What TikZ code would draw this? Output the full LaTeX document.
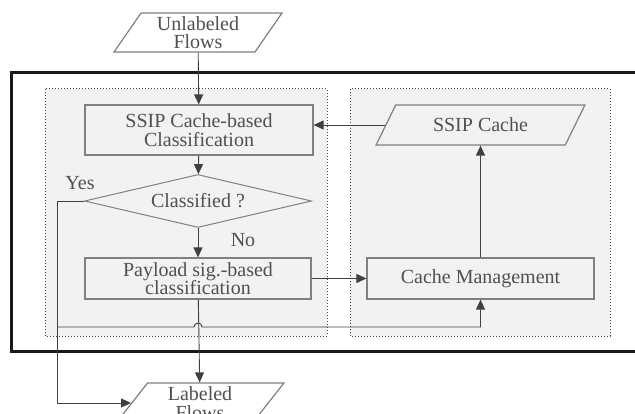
\documentclass[tikz,border=0pt]{standalone}
\usepackage{fontspec}
\setmainfont{Liberation Serif}
\usetikzlibrary{shapes.geometric,arrows.meta}

\definecolor{panelgray}{HTML}{F2F2F2}
\definecolor{boxline}{HTML}{808080}
\definecolor{txtgray}{HTML}{505050}
\definecolor{arrowgray}{HTML}{404040}

\begin{document}
\begin{tikzpicture}[
    x=1pt, y=-1pt,
    font=\fontsize{20}{18.5}\selectfont,
    procbox/.style={
        draw=boxline, line width=1.2pt, fill=panelgray,
        text=txtgray, align=center, inner sep=2pt
    },
    iobox/.style={
        trapezium, trapezium left angle=60, trapezium right angle=120,
        trapezium stretches=true, draw=boxline, line width=1.2pt,
        text=txtgray, align=center, inner sep=1pt
    },
    decision/.style={
        diamond, aspect=4.3, draw=boxline, line width=1pt, fill=panelgray,
        text=txtgray, minimum width=227pt, minimum height=53pt, inner sep=1pt
    },
    panel/.style={draw=black!75, dotted, line width=1pt, fill=panelgray},
    flow/.style={draw=arrowgray, line width=0.9pt, -{Triangle[length=10pt,width=9pt]}}
]
\useasboundingbox (0,0) rectangle (635,414);

% panels and frame
\draw[panel] (45,89) rectangle (327,336);
\draw[panel] (350,89) rectangle (610,336);
\draw[line width=3pt, black!90] (650,73) -- (11,73) -- (11,351) -- (650,351);

\node[iobox, fill=white, minimum width=168pt, minimum height=39pt] (unl) at (198,32.5) {Unlabeled\\Flows};
\node[procbox, minimum width=228pt, minimum height=50pt] (ssipc) at (199,130) {SSIP Cache-based\\Classification};
\node[decision] (dec) at (198,201) {Classified ?};
\node[procbox, minimum width=226pt, minimum height=41pt] (pay) at (198,278.5) {Payload sig.-based\\classification};
\node[procbox, minimum width=227pt, minimum height=41pt] (cmgmt) at (480.5,278.5) {Cache Management};
\node[iobox, fill=panelgray, minimum width=209pt, minimum height=40pt,
      trapezium left angle=55, trapezium right angle=125] (cache) at (480.5,125) {SSIP Cache};
\node[iobox, fill=white, minimum width=168pt, minimum height=40pt] (lab) at (200,403) {Labeled\\Flows};

\node[text=txtgray] (yes) at (80,183) {Yes};
\node[text=txtgray] (no) at (243,240) {No};

\coordinate (yesturn) at (57,201);
\coordinate (split) at (57,327);

\draw[flow] (unl) -- (ssipc);
\draw[flow] (ssipc) -- (dec);
\draw[flow] (dec) -- (pay);
\draw[flow] (pay) -- (lab);
\draw[flow] (pay) -- (cmgmt);
\draw[flow] (cmgmt) -- (cache);
\draw[flow] (cache.west) -- (cache.west -| ssipc.east);
\draw[flow] (dec.west) -- (yesturn) |- (lab);
\draw[flow] (split) -- ([xshift=-4pt]pay.south |- split)
    arc[start angle=180, end angle=0, radius=4pt]
    -- (cmgmt.south |- split) -- (cmgmt.south);

\end{tikzpicture}
\end{document}
